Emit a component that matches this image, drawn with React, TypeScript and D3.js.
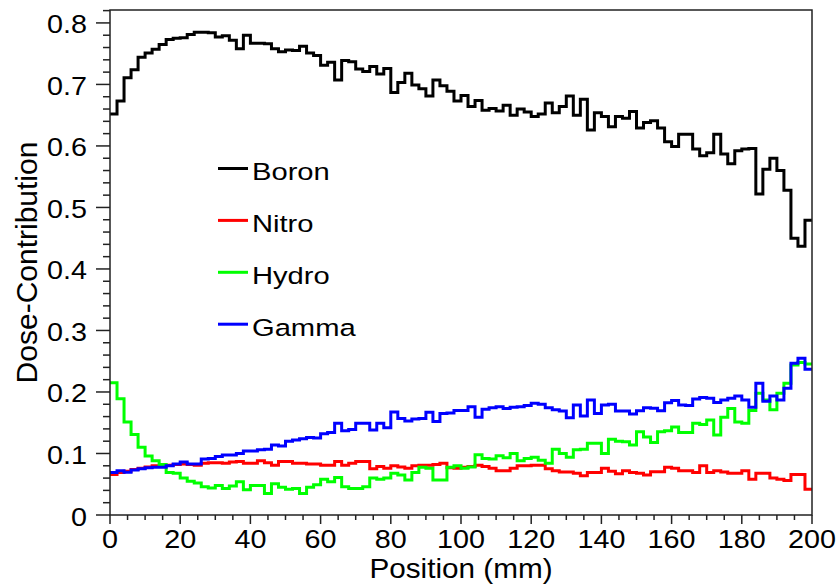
import React from "react";
import * as d3 from "d3";

// Dose contribution per 2 mm bin, 0–200 mm (100 bins)
const boron = [
  0.652, 0.673, 0.711, 0.724, 0.744, 0.751, 0.757, 0.765, 0.773, 0.775,
  0.776, 0.781, 0.785, 0.785, 0.784, 0.777, 0.779, 0.772, 0.758, 0.780,
  0.767, 0.767, 0.766, 0.758, 0.753, 0.756, 0.755, 0.762, 0.751, 0.747,
  0.731, 0.736, 0.707, 0.739, 0.737, 0.725, 0.721, 0.729, 0.717, 0.726,
  0.687, 0.703, 0.718, 0.699, 0.693, 0.681, 0.707, 0.698, 0.689, 0.673,
  0.682, 0.664, 0.674, 0.658, 0.661, 0.657, 0.666, 0.650, 0.660, 0.655,
  0.648, 0.652, 0.670, 0.654, 0.664, 0.681, 0.650, 0.676, 0.626, 0.654,
  0.648, 0.631, 0.648, 0.645, 0.656, 0.629, 0.638, 0.641, 0.629, 0.607,
  0.599, 0.619, 0.619, 0.595, 0.584, 0.589, 0.619, 0.587, 0.571, 0.592,
  0.595, 0.596, 0.522, 0.562, 0.580, 0.560, 0.528, 0.450, 0.437, 0.479,
];

const nitro = [
  0.066, 0.069, 0.071, 0.074, 0.076, 0.078, 0.080, 0.080, 0.081, 0.082,
  0.083, 0.082, 0.081, 0.084, 0.085, 0.085, 0.084, 0.086, 0.087, 0.084,
  0.084, 0.088, 0.085, 0.081, 0.087, 0.087, 0.084, 0.084, 0.083, 0.083,
  0.081, 0.081, 0.087, 0.081, 0.084, 0.087, 0.087, 0.075, 0.079, 0.076,
  0.080, 0.078, 0.076, 0.080, 0.081, 0.081, 0.082, 0.084, 0.077, 0.076,
  0.0775, 0.079, 0.081, 0.079, 0.076, 0.072, 0.072, 0.076, 0.080, 0.080,
  0.081, 0.081, 0.075, 0.072, 0.070, 0.070, 0.068, 0.064, 0.069, 0.069,
  0.076, 0.071, 0.067, 0.072, 0.069, 0.068, 0.065, 0.0705, 0.0705, 0.0775,
  0.076, 0.072, 0.072, 0.069, 0.080, 0.069, 0.072, 0.070, 0.068, 0.068,
  0.072, 0.058, 0.068, 0.068, 0.060, 0.058, 0.056, 0.066, 0.066, 0.042,
];

const hydro = [
  0.215, 0.189, 0.151, 0.131, 0.110, 0.096, 0.088, 0.082, 0.069, 0.068,
  0.060, 0.055, 0.052, 0.046, 0.044, 0.048, 0.043, 0.047, 0.054, 0.041,
  0.048, 0.048, 0.035, 0.051, 0.045, 0.042, 0.043, 0.035, 0.045, 0.049,
  0.058, 0.054, 0.061, 0.046, 0.043, 0.043, 0.046, 0.060, 0.058, 0.060,
  0.068, 0.065, 0.057, 0.069, 0.0775, 0.076, 0.057, 0.057, 0.0775, 0.080,
  0.076, 0.078, 0.098, 0.092, 0.091, 0.0965, 0.093, 0.100, 0.088, 0.092,
  0.094, 0.089, 0.084, 0.107, 0.100, 0.094, 0.106, 0.107, 0.1165, 0.1165,
  0.100, 0.123, 0.120, 0.119, 0.114, 0.1355, 0.127, 0.118, 0.1355, 0.137,
  0.143, 0.134, 0.134, 0.149, 0.147, 0.1545, 0.130, 0.159, 0.173, 0.151,
  0.149, 0.170, 0.198, 0.187, 0.171, 0.198, 0.214, 0.244, 0.248, 0.2455,
];

const gamma = [
  0.069, 0.072, 0.0694, 0.073, 0.075, 0.077, 0.0776, 0.0776, 0.080, 0.083,
  0.086, 0.083, 0.083, 0.091, 0.092, 0.095, 0.0976, 0.0976, 0.100, 0.104,
  0.104, 0.106, 0.107, 0.114, 0.112, 0.120, 0.122, 0.124, 0.126, 0.125,
  0.132, 0.134, 0.149, 0.137, 0.139, 0.149, 0.149, 0.138, 0.149, 0.142,
  0.1675, 0.157, 0.153, 0.156, 0.157, 0.167, 0.152, 0.165, 0.166, 0.170,
  0.170, 0.176, 0.159, 0.172, 0.1745, 0.176, 0.173, 0.175, 0.176, 0.178,
  0.1816, 0.180, 0.1745, 0.171, 0.169, 0.158, 0.179, 0.161, 0.187, 0.165,
  0.179, 0.180, 0.169, 0.169, 0.164, 0.1696, 0.1745, 0.1734, 0.1696, 0.1826,
  0.186, 0.179, 0.178, 0.1886, 0.191, 0.190, 0.183, 0.187, 0.190, 0.1935,
  0.187, 0.175, 0.214, 0.185, 0.1935, 0.187, 0.206, 0.2466, 0.2547, 0.237,
];

const seriesNames = ["Boron", "Nitro", "Hydro", "Gamma"];
const seriesColors = ["#000000", "#ff0000", "#00ff00", "#0000ff"];
const seriesValues = [boron, nitro, hydro, gamma];

const xTickValues = [0, 20, 40, 60, 80, 100, 120, 140, 160, 180, 200];
const yTickValues = [0, 0.1, 0.2, 0.3, 0.4, 0.5, 0.6, 0.7, 0.8];
const yTickLabels = ["0", "0.1", "0.2", "0.3", "0.4", "0.5", "0.6", "0.7", "0.8"];

const W = 839;
const H = 585;
const plot = { left: 110, right: 812, top: 10, bottom: 515 };
const font = "'Liberation Sans', Arial, Helvetica, sans-serif";

export default function App() {
  const x = d3.scaleLinear().domain([0, 200]).range([plot.left, plot.right]);
  const y = d3.scaleLinear().domain([0, 0.821]).range([plot.bottom, plot.top]);
  const binWidth = 200 / boron.length;

  const line = d3
    .line<[number, number]>()
    .x((d) => x(d[0]))
    .y((d) => y(d[1]))
    .curve(d3.curveStepAfter);

  const histPath = (vals: number[]) => {
    const pts: [number, number][] = vals.map((v, i) => [i * binWidth, v]);
    pts.push([200, vals[vals.length - 1]]);
    return line(pts) || "";
  };

  const xMinor = d3.range(0, 200.001, 5);
  const yMinor = d3.range(0, 0.8211, 0.02);

  return (
    <svg
      width={W}
      height={H}
      style={{ position: "absolute", left: 0, top: 0, background: "#fff" }}
      fontFamily={font}
    >
      <rect x={0} y={0} width={W} height={H} fill="#fff" />

      {/* histograms */}
      {seriesValues.map((vals, k) => (
        <path
          key={seriesNames[k]}
          d={histPath(vals)}
          fill="none"
          stroke={seriesColors[k]}
          strokeWidth={3}
          strokeLinejoin="miter"
        />
      ))}

      {/* frame */}
      <rect
        x={plot.left}
        y={plot.top}
        width={plot.right - plot.left}
        height={plot.bottom - plot.top}
        fill="none"
        stroke="#222"
        strokeWidth={1.5}
      />

      {/* x axis ticks */}
      {xMinor.map((v) => {
        const major = Math.abs(v % 20) < 1e-6;
        return (
          <line
            key={"xm" + v}
            x1={x(v)}
            x2={x(v)}
            y1={plot.bottom}
            y2={plot.bottom + (major ? 9 : 5)}
            stroke="#222"
            strokeWidth={1.5}
          />
        );
      })}
      {xTickValues.map((v) => (
        <text
          key={"xl" + v}
          transform={`translate(${x(v)},${plot.bottom + 33}) scale(1.15,1)`}
          textAnchor="middle"
          fontSize={25}
          fill="#000"
        >
          {v}
        </text>
      ))}

      {/* y axis ticks */}
      {yMinor.map((v, i) => {
        const major = i % 5 === 0;
        return (
          <line
            key={"ym" + i}
            x1={plot.left - (major ? 14 : 7)}
            x2={plot.left}
            y1={y(v)}
            y2={y(v)}
            stroke="#222"
            strokeWidth={1.5}
          />
        );
      })}
      {yTickValues.map((v, i) => (
        <text
          key={"yl" + v}
          transform={`translate(${plot.left - 23},${y(v) + 10.5}) scale(1.15,1)`}
          textAnchor="end"
          fontSize={25}
          fill="#000"
        >
          {yTickLabels[i]}
        </text>
      ))}

      {/* axis titles */}
      <text
        transform={`translate(${(plot.left + plot.right) / 2},${578}) scale(1.1,1)`}
        textAnchor="middle"
        fontSize={27}
        fill="#000"
      >
        Position (mm)
      </text>
      <text
        transform={`translate(37,${(plot.top + plot.bottom) / 2}) rotate(-90)`}
        textAnchor="middle"
        fontSize={30}
        fill="#000"
      >
        Dose-Contribution
      </text>

      {/* legend */}
      {seriesNames.map((name, k) => {
        const cy = 168.5 + k * 51.9;
        return (
          <g key={"lg" + name}>
            <line
              x1={218}
              x2={248}
              y1={cy}
              y2={cy}
              stroke={seriesColors[k]}
              strokeWidth={3}
            />
            <text
              transform={`translate(252,${cy + 11.5}) scale(1.19,1)`}
              fontSize={24.5}
              fill="#000"
            >
              {name}
            </text>
          </g>
        );
      })}
    </svg>
  );
}
